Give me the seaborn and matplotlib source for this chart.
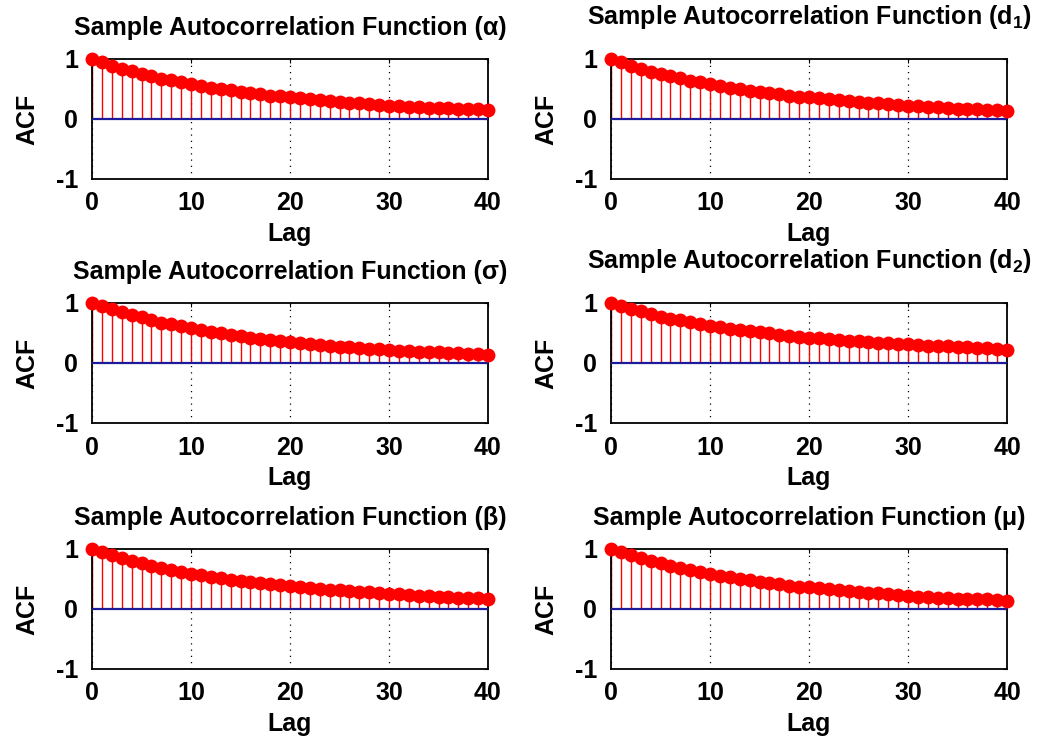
import numpy as np
import pandas as pd
import matplotlib
matplotlib.use("Agg")
import matplotlib.pyplot as plt
import seaborn as sns

lags = list(range(41))

acf_alpha = [1.00, 0.95, 0.89, 0.84, 0.80, 0.75, 0.71, 0.67, 0.65, 0.61, 0.58, 0.55, 0.52, 0.50,
             0.48, 0.455, 0.43, 0.41, 0.39, 0.38, 0.365, 0.345, 0.33, 0.31, 0.30, 0.285, 0.27, 0.26,
             0.25, 0.235, 0.225, 0.21, 0.20, 0.195, 0.19, 0.185, 0.18, 0.175, 0.17, 0.165, 0.15]
acf_d1 = [1.00, 0.95, 0.89, 0.84, 0.79, 0.75, 0.71, 0.68, 0.64, 0.61, 0.58, 0.55, 0.52, 0.50,
          0.47, 0.45, 0.43, 0.41, 0.39, 0.375, 0.36, 0.345, 0.33, 0.315, 0.30, 0.29, 0.275, 0.265,
          0.25, 0.24, 0.225, 0.215, 0.205, 0.195, 0.185, 0.175, 0.17, 0.16, 0.155, 0.15, 0.135]
acf_sigma = [1.00, 0.95, 0.90, 0.855, 0.80, 0.76, 0.72, 0.67, 0.645, 0.61, 0.58, 0.545, 0.52, 0.495,
             0.47, 0.445, 0.42, 0.405, 0.385, 0.36, 0.345, 0.33, 0.31, 0.30, 0.285, 0.27, 0.26, 0.25,
             0.24, 0.23, 0.217, 0.205, 0.195, 0.19, 0.185, 0.178, 0.167, 0.16, 0.155, 0.15, 0.133]
acf_d2 = [1.00, 0.95, 0.905, 0.86, 0.81, 0.77, 0.74, 0.71, 0.68, 0.65, 0.62, 0.595, 0.57, 0.55,
          0.53, 0.51, 0.495, 0.475, 0.455, 0.44, 0.42, 0.41, 0.40, 0.39, 0.37, 0.36, 0.35, 0.34,
          0.335, 0.32, 0.31, 0.30, 0.29, 0.283, 0.278, 0.267, 0.26, 0.25, 0.245, 0.233, 0.217]
acf_beta = [1.00, 0.95, 0.90, 0.85, 0.80, 0.76, 0.72, 0.68, 0.65, 0.62, 0.59, 0.56, 0.53, 0.51,
            0.49, 0.47, 0.45, 0.43, 0.41, 0.395, 0.38, 0.36, 0.345, 0.33, 0.32, 0.31, 0.30, 0.29,
            0.28, 0.27, 0.257, 0.245, 0.235, 0.225, 0.215, 0.205, 0.198, 0.19, 0.185, 0.18, 0.17]
acf_mu = [1.00, 0.95, 0.90, 0.85, 0.80, 0.76, 0.72, 0.68, 0.65, 0.61, 0.58, 0.55, 0.53, 0.50,
          0.48, 0.455, 0.43, 0.41, 0.39, 0.375, 0.365, 0.345, 0.33, 0.315, 0.30, 0.285, 0.27, 0.26,
          0.245, 0.23, 0.215, 0.205, 0.195, 0.185, 0.18, 0.175, 0.17, 0.165, 0.16, 0.155, 0.13]

titles = ["Sample Autocorrelation Function (\u03b1)",
          "Sample Autocorrelation Function (d$_1$)",
          "Sample Autocorrelation Function (\u03c3)",
          "Sample Autocorrelation Function (d$_2$)",
          "Sample Autocorrelation Function (\u03b2)",
          "Sample Autocorrelation Function (\u03bc)"]
series = [acf_alpha, acf_d1, acf_sigma, acf_d2, acf_beta, acf_mu]
x_ticks = [0, 10, 20, 30, 40]
y_ticks = [-1, 0, 1]

sns.set_style("white")
plt.rcParams["font.family"] = ["Liberation Sans", "DejaVu Sans"]
plt.rcParams["font.weight"] = "bold"
plt.rcParams["text.color"] = "black"
plt.rcParams["axes.labelcolor"] = "black"
plt.rcParams["xtick.color"] = "black"
plt.rcParams["ytick.color"] = "black"
plt.rcParams["mathtext.fontset"] = "custom"
plt.rcParams["mathtext.rm"] = "Liberation Sans:bold"
plt.rcParams["mathtext.it"] = "Liberation Sans:bold"
plt.rcParams["mathtext.bf"] = "Liberation Sans:bold"

W, H = 1041, 740
fig = plt.figure(figsize=(W / 100, H / 100), dpi=100)

lefts = [92, 611]
tops = [59, 303, 549]
aw, ah = 396, 120
FS = 18

for i, (title, vals) in enumerate(zip(titles, series)):
    r, c = divmod(i, 2)
    ax = fig.add_axes([lefts[c] / W, 1 - (tops[r] + ah) / H, aw / W, ah / H])
    df = pd.DataFrame({"Lag": lags, "ACF": vals})
    ax.vlines(df["Lag"], 0, df["ACF"], color="#ff0000", lw=1.0, zorder=2)
    ax.plot([0, 40], [0, 0], color="#1a1a9a", lw=1.6, zorder=3)
    sns.scatterplot(data=df, x="Lag", y="ACF", ax=ax, color="#ff0000", edgecolor="#ff0000",
                    s=100, linewidth=0, zorder=4, clip_on=False)
    ax.set_xlim(0, 40)
    ax.set_ylim(-1, 1)
    ax.set_xticks(x_ticks)
    ax.set_yticks(y_ticks)
    ax.set_xticklabels([str(t) for t in x_ticks])
    ax.set_yticklabels([str(t) for t in y_ticks])
    ax.tick_params(axis="both", labelsize=FS, direction="in", length=3, width=0.8,
                   top=True, right=True, color="black", labelcolor="black")
    ax.tick_params(axis="x", pad=9)
    ax.tick_params(axis="y", pad=10)
    for lab in ax.get_xticklabels() + ax.get_yticklabels():
        lab.set_fontweight("bold")
    ax.grid(False)
    ax.xaxis.grid(True, linestyle=(0, (1, 4)), color="black", lw=0.9)
    ax.set_axisbelow(True)
    for sp in ax.spines.values():
        sp.set_color("black")
        sp.set_linewidth(1.3)
        sp.set_visible(True)
    ax.set_xlabel("Lag", fontsize=FS, fontweight="bold", labelpad=5, color="black")
    ax.set_ylabel("ACF", fontsize=FS, fontweight="bold", labelpad=12, color="black")
    tpad = 20 if "$_" in title else 14
    ax.set_title(title, fontsize=FS, fontweight="bold", pad=tpad, va="bottom", color="black")

fig.savefig("out.png", dpi=100, facecolor="white")
